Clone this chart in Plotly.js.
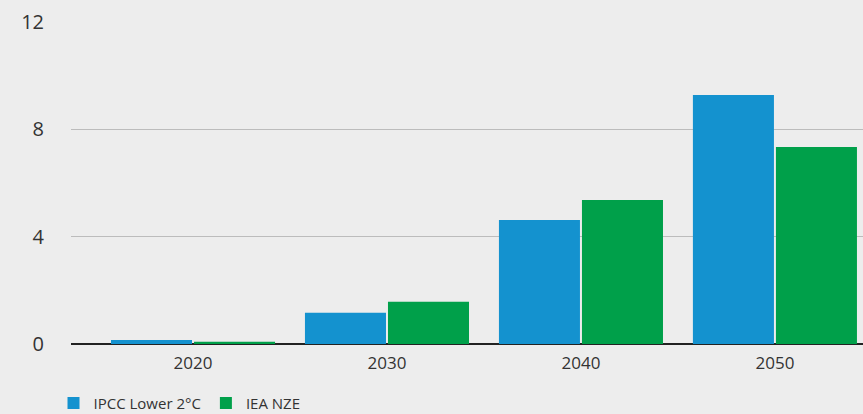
<!DOCTYPE html>
<html>
<head>
<meta charset="utf-8">
<script src="https://cdn.plot.ly/plotly-3.0.1.min.js"></script>
<style>html,body{margin:0;padding:0;background:#ededed;}#chart{width:863px;height:414px;}</style>
</head>
<body>
<div id="chart"></div>
<script>
const years = ['2020', '2030', '2040', '2050'];
const ipccLower2C = [0.15, 1.16, 4.62, 9.28];
const ieaNZE = [0.08, 1.57, 5.37, 7.34];
const seriesNames = ['IPCC Lower 2°C', 'IEA NZE'];
const yTicks = [0, 4, 8, 12];

const font = '"Open Sans", "Noto Sans", sans-serif';
const traces = [
  {type: 'bar', name: seriesNames[0], x: years, y: ipccLower2C, marker: {color: '#1492cf'}},
  {type: 'bar', name: seriesNames[1], x: years, y: ieaNZE, marker: {color: '#00a04a'}}
];
const layout = {
  width: 863, height: 414,
  paper_bgcolor: '#ededed', plot_bgcolor: '#ededed',
  margin: {l: 71, r: 0, t: 22, b: 70, autoexpand: false},
  barmode: 'group', bargap: 0.144, bargroupgap: 0.024,
  font: {family: font, color: '#333333'},
  xaxis: {
    type: 'category', range: [-0.629, 3.454],
    showgrid: false, showline: false, ticks: '', ticklabelstandoff: 7,
    tickfont: {size: 17, color: '#333333'}, fixedrange: true
  },
  yaxis: {
    range: [0, 12], tickvals: yTicks, ticktext: yTicks.map(String),
    showgrid: true, gridcolor: '#bcbcbc', gridwidth: 1.5,
    zeroline: true, zerolinecolor: '#222222', zerolinewidth: 1.5,
    showline: false, ticks: '', ticklabelstandoff: 26,
    tickfont: {size: 20, color: '#333333'}, fixedrange: true
  },
  showlegend: true,
  legend: {
    orientation: 'h', xref: 'container', x: 0.062, xanchor: 'left',
    yref: 'container', y: 0.066, yanchor: 'top',
    font: {size: 15, color: '#333333'}, bgcolor: 'rgba(0,0,0,0)',
    tracegroupgap: 0
  }
};
Plotly.newPlot('chart', traces, layout, {displayModeBar: false, staticPlot: true});
</script>
</body>
</html>
